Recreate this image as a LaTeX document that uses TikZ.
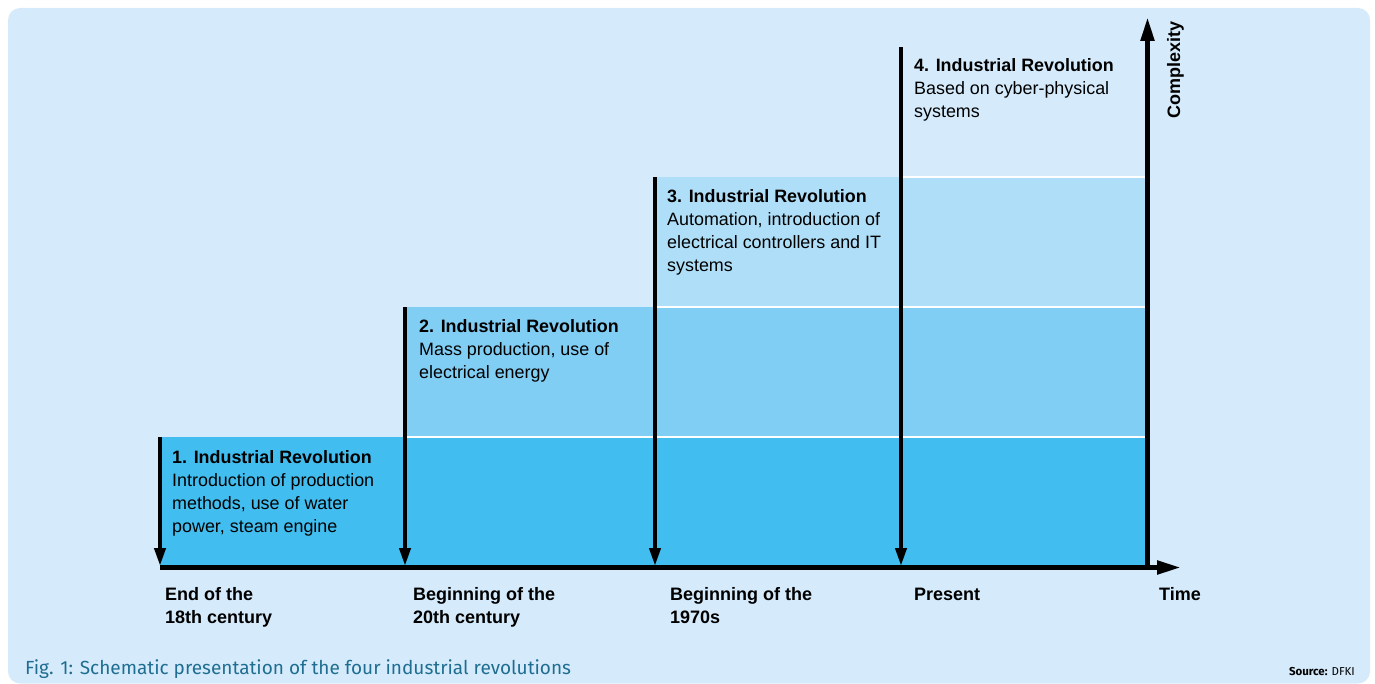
\documentclass[tikz,border=0pt]{standalone}
\usepackage{fontspec}
\setmainfont{Liberation Sans}
\newfontfamily\capfont{Fira Sans}
\usetikzlibrary{arrows.meta}
\definecolor{bgblue}{HTML}{D5EBFB}
\definecolor{lvone}{HTML}{41BEEF}
\definecolor{lvtwo}{HTML}{80CEF4}
\definecolor{lvthree}{HTML}{AFDFF8}
\definecolor{capteal}{HTML}{1F6E91}
\tikzset{
  txt/.style={anchor=base west, inner sep=0pt, font=\fontsize{17.9bp}{23bp}\selectfont},
  axlbl/.style={anchor=base west, inner sep=0pt, font=\fontsize{18bp}{23.5bp}\selectfont\bfseries},
  revarrow/.style={line width=4bp, -{Triangle[length=18bp,width=11bp]}},
  axarrow/.style={line width=5bp, -{Triangle[length=24bp,width=13bp]}},
  sepline/.style={white, line width=1.2bp},
}
\begin{document}
\begin{tikzpicture}[x=1bp,y=-1bp]
\useasboundingbox (0,0) rectangle (1375,684);
\fill[bgblue, rounded corners=12bp] (8,8) rectangle (1370,683.5);
% steps
\fill[lvone] (160,437) rectangle (1147,567);
\fill[lvtwo] (405,307) rectangle (1147,437);
\fill[lvthree] (655,177) rectangle (1147,307);
\draw[sepline] (405,437) -- (1147,437);
\draw[sepline] (655,307) -- (1147,307);
\draw[sepline] (900,177) -- (1147,177);
% revolution arrows
\coordinate (r1a) at (160,437); \coordinate (r1b) at (160,566);
\coordinate (r2a) at (405,307); \coordinate (r2b) at (405,566);
\coordinate (r3a) at (655,177); \coordinate (r3b) at (655,566);
\coordinate (r4a) at (901,47);  \coordinate (r4b) at (901,566);
\draw[revarrow] (r1a) -- (r1b);
\draw[revarrow] (r2a) -- (r2b);
\draw[revarrow] (r3a) -- (r3b);
\draw[revarrow] (r4a) -- (r4b);
% axes
\coordinate (o) at (160,567.5);
\coordinate (tx) at (1181,567.5);
\coordinate (yo) at (1147.5,570);
\coordinate (ty) at (1147.5,17);
\draw[axarrow] (o) -- (tx);
\draw[axarrow] (yo) -- (ty);
% revolution texts
\node[txt] (t1) at (172,463) {\begin{tabular}[t]{@{}l@{}}\textbf{1. Industrial Revolution}\\Introduction of production\\methods, use of water\\power, steam engine\end{tabular}};
\node[txt] (t2) at (419,332) {\begin{tabular}[t]{@{}l@{}}\textbf{2. Industrial Revolution}\\Mass production, use of\\electrical energy\end{tabular}};
\node[txt] (t3) at (667,202) {\begin{tabular}[t]{@{}l@{}}\textbf{3. Industrial Revolution}\\Automation, introduction of\\electrical controllers and IT\\systems\end{tabular}};
\node[txt] (t4) at (914,72) {\begin{tabular}[t]{@{}l@{}}\textbf{4. Industrial Revolution}\\Based on cyber-physical\\systems\end{tabular}};
% time labels
\node[axlbl] (l1) at (165,600) {\begin{tabular}[t]{@{}l@{}}End of the\\18th century\end{tabular}};
\node[axlbl] (l2) at (413,600) {\begin{tabular}[t]{@{}l@{}}Beginning of the\\20th century\end{tabular}};
\node[axlbl] (l3) at (670,600) {\begin{tabular}[t]{@{}l@{}}Beginning of the\\1970s\end{tabular}};
\node[axlbl] (l4) at (914,600) {Present};
\node[axlbl] (tm) at (1159,600) {Time};
\node[axlbl, rotate=90] (cx) at (1180,119) {Complexity};
% caption
\node[anchor=base west, inner sep=0pt, text=capteal, font=\capfont\fontsize{19bp}{23bp}\selectfont] (cap) at (25,674) {Fig. 1: Schematic presentation of the four industrial revolutions};
\node[anchor=base east, inner sep=0pt, font=\capfont\fontsize{11.5bp}{14bp}\selectfont] (src) at (1355,675) {\textbf{Source:} DFKI};
\end{tikzpicture}
\end{document}
